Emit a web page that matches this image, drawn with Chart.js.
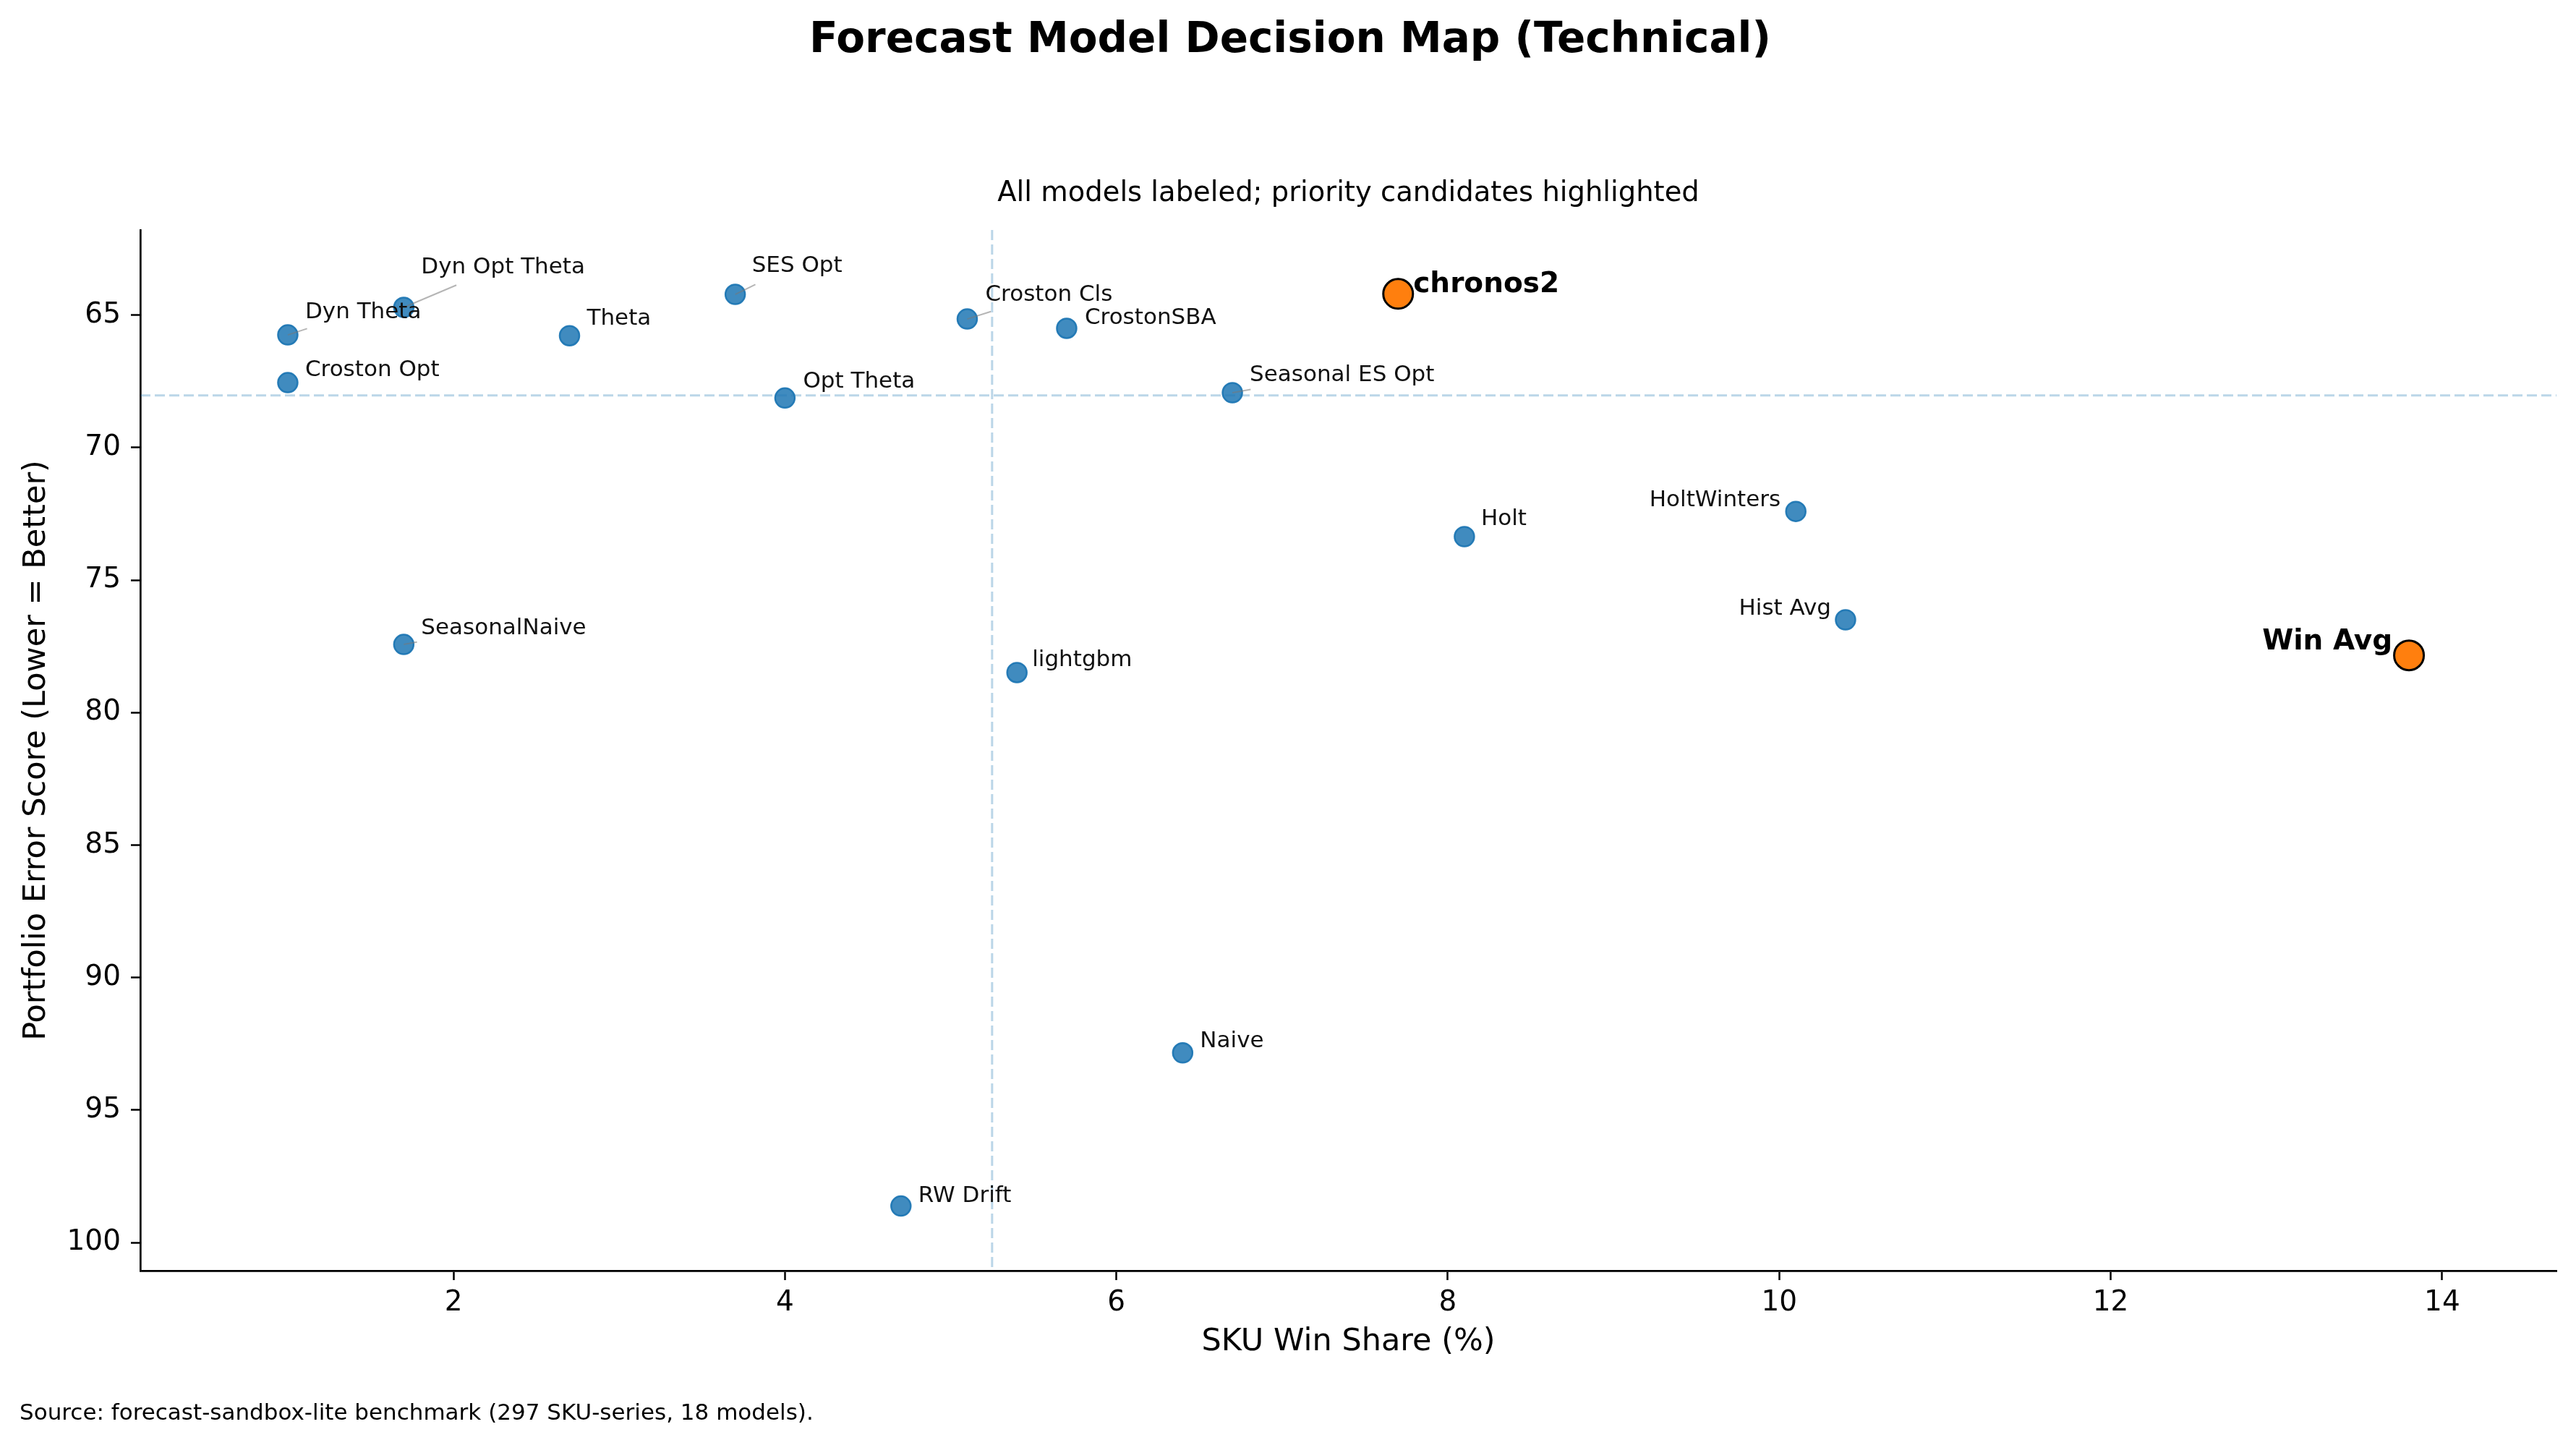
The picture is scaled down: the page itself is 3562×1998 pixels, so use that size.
<!DOCTYPE html>
<html>
<head>
<meta charset="utf-8">
<script src="https://cdn.jsdelivr.net/npm/chart.js@4.4.1/dist/chart.umd.min.js"></script>
<style>
  html, body { margin: 0; padding: 0; background: #fff; }
  canvas { display: block; }
</style>
</head>
<body>
<canvas id="mapa" width="3562" height="1998"></canvas>
<script>
// valores
const modelos = ['Dyn Opt Theta', 'Dyn Theta', 'Croston Opt', 'Theta', 'SES Opt', 'Opt Theta',
  'Croston Cls', 'CrostonSBA', 'Seasonal ES Opt', 'chronos2', 'Holt', 'HoltWinters',
  'Hist Avg', 'Win Avg', 'SeasonalNaive', 'lightgbm', 'Naive', 'RW Drift'];
const winShare = [1.7, 1.0, 1.0, 2.7, 3.7, 4.0, 5.1, 5.7, 6.7, 7.7, 8.1, 10.1,
  10.4, 13.8, 1.7, 5.4, 6.4, 4.7];
const errorScore = [64.71, 65.75, 67.55, 65.78, 64.22, 68.13, 65.15, 65.50, 67.93, 64.20, 73.36, 72.41,
  76.50, 77.84, 77.43, 78.49, 92.84, 98.62];
const prioridade = ['chronos2', 'Win Avg'];
const xTicks = [2, 4, 6, 8, 10, 12, 14];
const yTicks = [65, 70, 75, 80, 85, 90, 95, 100];

// posição dos rótulos (px em relação ao ponto)
const rotulos = {
  'Dyn Opt Theta': [24, -58, 'left'],
  'Dyn Theta': [24, -34, 'left'],
  'Croston Opt': [24, -20, 'left'],
  'Theta': [24, -27, 'left'],
  'SES Opt': [23, -42, 'left'],
  'Opt Theta': [25, -26, 'left'],
  'Croston Cls': [25, -36, 'left'],
  'CrostonSBA': [25, -17, 'left'],
  'Seasonal ES Opt': [24, -27, 'left'],
  'chronos2': [21, -17, 'left'],
  'Holt': [23, -27, 'left'],
  'HoltWinters': [-21, -18, 'right'],
  'Hist Avg': [-20, -18, 'right'],
  'Win Avg': [-23, -22, 'right'],
  'SeasonalNaive': [24, -25, 'left'],
  'lightgbm': [21, -20, 'left'],
  'Naive': [24, -19, 'left'],
  'RW Drift': [24, -17, 'left']
};

const FONTE = 'DejaVu Sans';

function mediana(arr) {
  const s = [...arr].sort((a, b) => a - b);
  const m = Math.floor(s.length / 2);
  return s.length % 2 ? s[m] : (s[m - 1] + s[m]) / 2;
}

const pontos = modelos.map((m, i) => ({ x: winShare[i], y: errorScore[i], nome: m }));
const pontosPrioridade = pontos.filter(p => prioridade.includes(p.nome));
const pontosOutros = pontos.filter(p => !prioridade.includes(p.nome));

const decor = {
  id: 'decor',
  beforeDatasetsDraw(chart) {
    const { ctx, chartArea: a, scales: { x, y } } = chart;
    const mx = x.getPixelForValue(mediana(winShare));
    const my = y.getPixelForValue(mediana(errorScore));
    ctx.save();
    ctx.strokeStyle = 'rgba(31,119,180,0.3)';
    ctx.lineWidth = 3;
    ctx.setLineDash([14, 6]);
    ctx.beginPath();
    ctx.moveTo(mx, a.top); ctx.lineTo(mx, a.bottom);
    ctx.moveTo(a.left, my); ctx.lineTo(a.right, my);
    ctx.stroke();
    ctx.restore();
  },
  afterDatasetsDraw(chart) {
    const { ctx, scales: { x, y } } = chart;
    ctx.save();
    pontos.forEach(p => {
      const destaque = prioridade.includes(p.nome);
      const size = destaque ? 39 : 31;
      ctx.font = (destaque ? 'bold ' : '') + size + 'px "' + FONTE + '"';
      const [dx, dy, align] = rotulos[p.nome];
      const px = x.getPixelForValue(p.x);
      const py = y.getPixelForValue(p.y);
      const w = ctx.measureText(p.nome).width;
      const left = align === 'left' ? px + dx : px + dx - w;
      const cy = py + dy;
      // linha guia (centro do texto -> ponto)
      const cx = left + w / 2;
      const hw = w / 2 + 4, hh = size * 0.5 + 4;
      const vx = px - cx, vy = py - cy;
      const t = Math.min(vx ? hw / Math.abs(vx) : Infinity, vy ? hh / Math.abs(vy) : Infinity);
      if (t < 1) {
        let ex = cx + vx * t, ey = cy + vy * t;
        const len = Math.hypot(px - ex, py - ey);
        const enc = Math.min(20, len * 0.4);
        ex += (px - ex) / len * enc; ey += (py - ey) / len * enc;
        if (Math.hypot(px - ex, py - ey) > 16) {
          ctx.strokeStyle = 'rgba(120,120,120,0.55)';
          ctx.lineWidth = 2;
          ctx.beginPath();
          ctx.moveTo(px, py); ctx.lineTo(ex, ey);
          ctx.stroke();
        }
      }
      ctx.fillStyle = destaque ? '#000' : '#111';
      ctx.textAlign = 'left';
      ctx.textBaseline = 'alphabetic';
      ctx.fillText(p.nome, left, cy + size * 0.365);
    });
    ctx.restore();
  },
  afterDraw(chart) {
    const { ctx } = chart;
    ctx.save();
    ctx.fillStyle = '#000';
    ctx.textBaseline = 'alphabetic';
    ctx.textAlign = 'center';
    ctx.font = 'bold 58px "' + FONTE + '"';
    ctx.fillText('Forecast Model Decision Map (Technical)', 1784, 72);
    ctx.font = '38.5px "' + FONTE + '"';
    const a = chart.chartArea;
    ctx.fillText('All models labeled; priority candidates highlighted', (a.left + a.right) / 2, 278);
    ctx.textAlign = 'left';
    ctx.font = '31px "' + FONTE + '"';
    ctx.fillText('Source: forecast-sandbox-lite benchmark (297 SKU-series, 18 models).', 27, 1963);
    ctx.restore();
  }
};

const ctx = document.getElementById('mapa').getContext('2d');
new Chart(ctx, {
  type: 'scatter',
  data: {
    datasets: [
      {
        label: 'Priority',
        data: pontosPrioridade,
        backgroundColor: '#ff7f0e',
        borderColor: '#000',
        borderWidth: 3,
        pointRadius: 20.5,
        pointHoverRadius: 20.5
      },
      {
        label: 'Models',
        data: pontosOutros,
        backgroundColor: 'rgba(31,119,180,0.85)',
        borderColor: 'rgba(31,119,180,0.95)',
        borderWidth: 2.5,
        pointRadius: 13.5,
        pointHoverRadius: 13.5
      }
    ]
  },
  options: {
    responsive: false,
    devicePixelRatio: 1,
    animation: false,
    events: [],
    layout: { padding: { top: 318, right: 27, bottom: 0, left: 0 } },
    plugins: { legend: { display: false }, tooltip: { enabled: false } },
    scales: {
      x: {
        type: 'linear',
        min: 0.11,
        max: 14.69,
        afterBuildTicks: s => { s.ticks = xTicks.map(v => ({ value: v })); },
        afterFit: s => { s.height = 1998 - 1757; },
        grid: { drawOnChartArea: false, drawTicks: true, tickLength: 13, tickWidth: 2.5, tickColor: '#000' },
        border: { display: true, color: '#000', width: 2.7 },
        ticks: { color: '#000', font: { family: FONTE, size: 39 }, padding: 8, maxRotation: 0 },
        title: {
          display: true, text: 'SKU Win Share (%)', color: '#000',
          font: { family: FONTE, size: 43 }, padding: { top: 0, bottom: 116 }
        }
      },
      y: {
        type: 'linear',
        reverse: true,
        min: 61.79,
        max: 101.06,
        afterBuildTicks: s => { s.ticks = yTicks.map(v => ({ value: v })); },
        afterFit: s => { s.width = 194; },
        grid: { drawOnChartArea: false, drawTicks: true, tickLength: 13, tickWidth: 2.5, tickColor: '#000' },
        border: { display: true, color: '#000', width: 2.7 },
        ticks: { color: '#000', font: { family: FONTE, size: 39 }, padding: 14 },
        title: {
          display: true, text: 'Portfolio Error Score (Lower = Better)', color: '#000',
          font: { family: FONTE, size: 43 }, padding: { top: 25, bottom: 0 }
        }
      }
    }
  },
  plugins: [decor]
});
</script>
</body>
</html>
